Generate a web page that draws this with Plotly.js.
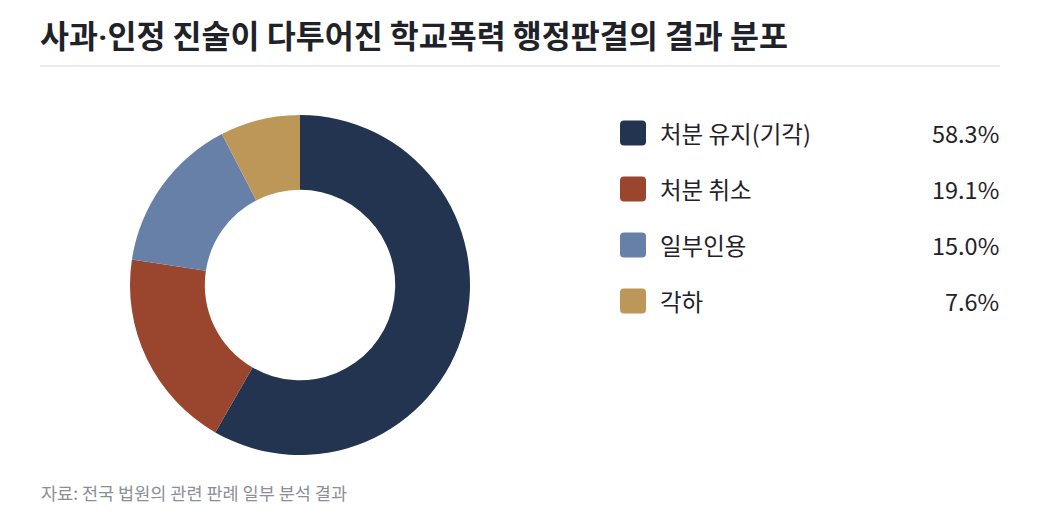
<!DOCTYPE html>
<html>
<head>
<meta charset="utf-8">
<script src="https://cdn.plot.ly/plotly-3.0.1.min.js"></script>
<style>
  html, body { margin: 0; padding: 0; background: #fff; }
  #chart { width: 1040px; height: 525px; }
</style>
</head>
<body>
<div id="chart"></div>
<script>
var labels = ['처분 유지(기각)', '처분 취소', '일부인용', '각하'];
var values = [58.3, 19.1, 15.0, 7.6];
var colors = ['#233450', '#9a452d', '#6780a8', '#bd9757'];

var W = 1040, H = 525;
var FONT = '"Noto Sans CJK KR", "Noto Sans", sans-serif';

// pixel -> paper helpers
function px(x) { return x / W; }
function py(y) { return 1 - y / H; }

var donut = {
    type: 'pie',
    labels: labels,
    values: values,
    marker: { colors: colors, line: { width: 0 } },
    hole: 0.56,
    sort: false,
    direction: 'clockwise',
    rotation: 0,
    textinfo: 'none',
    hoverinfo: 'label+percent',
    domain: { x: [px(130), px(470)], y: [py(455), py(115)] },
    showlegend: false
};

var shapes = [
    // line under title
    { type: 'line', xref: 'paper', yref: 'paper', x0: px(40), x1: px(1000), y0: py(66), y1: py(66),
      line: { color: '#e3e5e9', width: 1.5 } }
];

var annotations = [
    { text: '<b>사과<span style="font-family:Roboto">·</span>인정 진술이 다투어진 학교폭력 행정판결의 결과 분포</b>',
      xref: 'paper', yref: 'paper',
      x: px(38), y: py(34), xanchor: 'left', yanchor: 'middle', showarrow: false,
      font: { family: FONT, size: 31.5, color: '#1f2229' } },
    { text: '자료: 전국 법원의 관련 판례 일부 분석 결과', xref: 'paper', yref: 'paper',
      x: px(39), y: py(492), xanchor: 'left', yanchor: 'middle', showarrow: false,
      font: { family: FONT, size: 17.5, color: '#8b8f98' } }
];

// custom legend built from the data arrays
labels.forEach(function (lab, i) {
    var cy = 133 + i * 56;
    var x0 = 620, x1 = 646, y0 = cy - 12.5, y1 = cy + 12.5, r = 4;
    var path = 'M' + px(x0 + r) + ',' + py(y0) +
        ' L' + px(x1 - r) + ',' + py(y0) +
        ' Q' + px(x1) + ',' + py(y0) + ' ' + px(x1) + ',' + py(y0 + r) +
        ' L' + px(x1) + ',' + py(y1 - r) +
        ' Q' + px(x1) + ',' + py(y1) + ' ' + px(x1 - r) + ',' + py(y1) +
        ' L' + px(x0 + r) + ',' + py(y1) +
        ' Q' + px(x0) + ',' + py(y1) + ' ' + px(x0) + ',' + py(y1 - r) +
        ' L' + px(x0) + ',' + py(y0 + r) +
        ' Q' + px(x0) + ',' + py(y0) + ' ' + px(x0 + r) + ',' + py(y0) + ' Z';
    shapes.push({ type: 'path', xref: 'paper', yref: 'paper', path: path,
        fillcolor: colors[i], line: { width: 0 } });
    annotations.push({ text: lab, xref: 'paper', yref: 'paper',
        x: px(658), y: py(cy), xanchor: 'left', yanchor: 'middle', showarrow: false,
        font: { family: FONT, size: 23.5, color: '#1f2229' } });
    annotations.push({ text: values[i].toFixed(1) + '%', xref: 'paper', yref: 'paper',
        x: px(1001), y: py(cy), xanchor: 'right', yanchor: 'middle', showarrow: false,
        font: { family: FONT, size: 23.5, color: '#1f2229' } });
});

var layout = {
    width: W,
    height: H,
    margin: { l: 0, r: 0, t: 0, b: 0 },
    paper_bgcolor: '#ffffff',
    plot_bgcolor: '#ffffff',
    font: { family: FONT },
    shapes: shapes,
    annotations: annotations
};

Plotly.newPlot('chart', [donut], layout, { displayModeBar: false, staticPlot: true });
</script>
</body>
</html>
